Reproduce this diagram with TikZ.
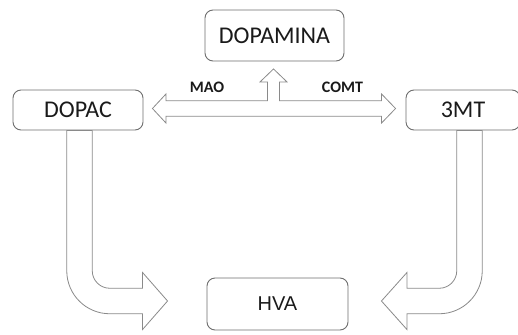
\documentclass[tikz,border=0pt]{standalone}
\usepackage{fontspec}
\setmainfont{Carlito}
\newfontfamily\arialf{Liberation Sans}
\usetikzlibrary{calc}
\definecolor{boxgray}{HTML}{6E6E6E}
\definecolor{arrowgray}{HTML}{8A8A8A}
\definecolor{txt}{HTML}{1A1A1A}
\begin{document}
\begin{tikzpicture}[x=1pt,y=-1pt,
  box/.style={draw=boxgray, line width=0.9pt, rounded corners=8pt, fill=white,
    font=\fontsize{24}{28}\selectfont, text=txt, inner sep=0pt},
  blockarrow/.style={draw=arrowgray, line width=0.8pt, fill=white, line join=miter},
  lbl/.style={font=\bfseries\fontsize{16}{18}\selectfont, text=txt, inner sep=0pt}]
\useasboundingbox (0,0) rectangle (518,334);
\clip (0,0) rectangle (518,334);

\node[box, minimum width=139pt, minimum height=51pt] (dopa) at (274.5,35.5) {DOPAMINA};
\node[box, minimum width=130pt, minimum height=40pt] (dopac) at (78,110) {DOPAC};
\node[box, minimum width=114pt, minimum height=40pt] (mt) at (463,110) {3MT};
\node[box, minimum width=141pt, minimum height=52pt, font=\arialf\fontsize{20}{24}\selectfont] (hva) at (277.5,304) {HVA};

\node[lbl] (mao) at (207,87.5) {MAO};
\node[lbl] (comt) at (342.5,87.5) {COMT};

% horizontal double arrow with upward branch
\coordinate (Lt) at ($(dopac.east)+(9,-1.5)$);
\coordinate (Rt) at ($(Lt -| mt.west)+(-10,0)$);
\coordinate (Ut) at ($(dopa.south)+(-1,7.5)$);
\coordinate (Ub) at (Ut |- Lt);
\draw[blockarrow] (Lt) -- ++(13.5,-14.5) -- ++(0,6.7) -- ($(Ub)+(-6,-7.8)$)
  -- ($(Ut)+(-6,13)$) -- ++(-7.5,0) -- (Ut) -- ++(13.5,13) -- ++(-7.5,0)
  -- ($(Ub)+(6,-7.8)$) -- ($(Rt)+(-14,-7.8)$) -- ++(0,-6.7) -- (Rt)
  -- ++(-14,14.5) -- ++(0,-6.7) -- ($(Lt)+(13.5,7.8)$) -- ++(0,6.7) -- cycle;

% left bent arrow DOPAC -> HVA
\coordinate (Ls) at ($(dopac.south)+(1.5,0)$);
\coordinate (Lh) at ($(hva.west)+(-39,-3)$);
\draw[blockarrow] ($(Ls)+(-12.75,0)$) -- ($(Ls |- Lh)+(-12.75,-30.25)$)
  arc[start angle=180,end angle=270,radius=43pt]
  -- ($(Lh)+(-25,12.75)$) -- ++(0,15.75) -- (Lh) -- ++(-25,-28.5) -- ++(0,15.75)
  -- ($(Ls |- Lh)+(30.25,-12.75)$)
  arc[start angle=270,end angle=180,radius=17.5pt]
  -- ($(Ls)+(12.75,0)$) -- cycle;

% right bent arrow 3MT -> HVA
\coordinate (Rs) at ($(mt.south)+(6.5,0)$);
\coordinate (Rh) at ($(hva.east)+(33,-3)$);
\draw[blockarrow] ($(Rs)+(12.75,0)$) -- ($(Rs |- Rh)+(12.75,-30.25)$)
  arc[start angle=0,end angle=-90,radius=43pt]
  -- ($(Rh)+(25.5,12.75)$) -- ++(0,15.75) -- (Rh) -- ++(25.5,-28.5) -- ++(0,15.75)
  -- ($(Rs |- Rh)+(-30.25,-12.75)$)
  arc[start angle=-90,end angle=0,radius=17.5pt]
  -- ($(Rs)+(-12.75,0)$) -- cycle;
\end{tikzpicture}
\end{document}
